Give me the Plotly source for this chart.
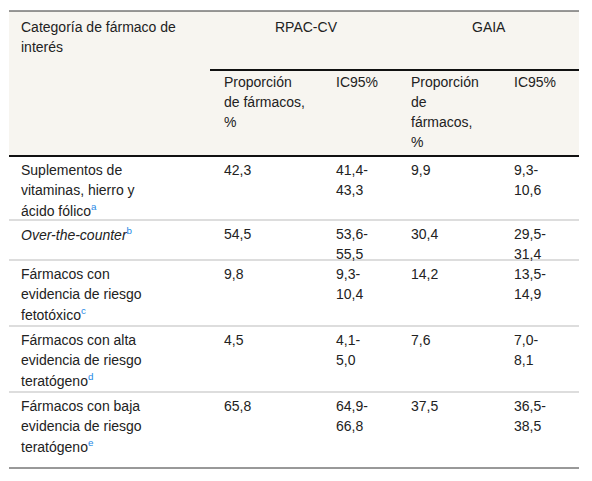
import plotly.graph_objects as go

# table content
categorias = [
    ["Suplementos de", "vitaminas, hierro y", "ácido fólico<sup><span style='color:#1e88e5'>a</span></sup>"],
    ["<i>Over-the-counter</i><sup><span style='color:#1e88e5'>b</span></sup>"],
    ["Fármacos con", "evidencia de riesgo", "fetotóxico<sup><span style='color:#1e88e5'>c</span></sup>"],
    ["Fármacos con alta", "evidencia de riesgo", "teratógeno<sup><span style='color:#1e88e5'>d</span></sup>"],
    ["Fármacos con baja", "evidencia de riesgo", "teratógeno<sup><span style='color:#1e88e5'>e</span></sup>"],
]
rpac_prop = ["42,3", "54,5", "9,8", "4,5", "65,8"]
rpac_ic = [["41,4-", "43,3"], ["53,6-", "55,5"], ["9,3-", "10,4"], ["4,1-", "5,0"], ["64,9-", "66,8"]]
gaia_prop = ["9,9", "30,4", "14,2", "7,6", "37,5"]
gaia_ic = [["9,3-", "10,6"], ["29,5-", "31,4"], ["13,5-", "14,9"], ["7,0-", "8,1"], ["36,5-", "38,5"]]

W, H = 592, 481
DX, DY = -10, -8  # page offset compensation
L, R = 11 + DX, 581 + DX
col_x = [21 + DX, 224 + DX, 336 + DX, 411 + DX, 514 + DX]
row_tops = [156, 220, 260, 326, 392]
table_bottom = 468
LH = 20

fig = go.Figure()
ann = []
shapes = []

def text(x, y, s, xanchor="left"):
    ann.append(dict(x=x, y=y + DY, text=s, showarrow=False, xanchor=xanchor, yanchor="middle",
                    font=dict(size=14, color="#222", family="Liberation Sans, Arial")))

def lines(x, y0, ls):
    for i, s in enumerate(ls):
        text(x, y0 + i * LH, s)

def hline(x0, x1, y, color, width):
    shapes.append(dict(type="line", x0=x0, x1=x1, y0=y + DY, y1=y + DY, line=dict(color=color, width=width)))

# header
shapes.append(dict(type="rect", x0=L, x1=R, y0=11 + DY, y1=156 + DY, fillcolor="#f7f5f0", line_width=0, layer="below"))
hline(L, R, 11, "#333", 1)
hline(212 + DX, R, 70, "#111", 2)
hline(L, R, 156, "#111", 2)
lines(col_x[0], 27, ["Categoría de fármaco de", "interés"])
text(308 + DX, 27, "RPAC-CV", "center")
text(491 + DX, 27, "GAIA", "center")
lines(col_x[1], 82, ["Proporción", "de fármacos,", "%"])
lines(col_x[2], 82, ["IC95%"])
lines(col_x[3], 82, ["Proporción", "de", "fármacos,", "%"])
lines(col_x[4], 82, ["IC95%"])

# body
for i in range(len(categorias)):
    y0 = row_tops[i] + 14
    lines(col_x[0], y0, categorias[i])
    lines(col_x[1], y0, [rpac_prop[i]])
    lines(col_x[2], y0, rpac_ic[i])
    lines(col_x[3], y0, [gaia_prop[i]])
    lines(col_x[4], y0, gaia_ic[i])
    if i > 0:
        hline(L, R, row_tops[i], "#bbb", 1)
hline(L, R, table_bottom, "#333", 1)

fig.update_layout(width=W, height=H, margin=dict(l=0, r=0, t=0, b=0),
                  paper_bgcolor="white", plot_bgcolor="white",
                  annotations=ann, shapes=shapes, showlegend=False,
                  xaxis=dict(range=[0, W], visible=False, fixedrange=True),
                  yaxis=dict(range=[H, 0], visible=False, fixedrange=True))
fig.write_html("out.html")
